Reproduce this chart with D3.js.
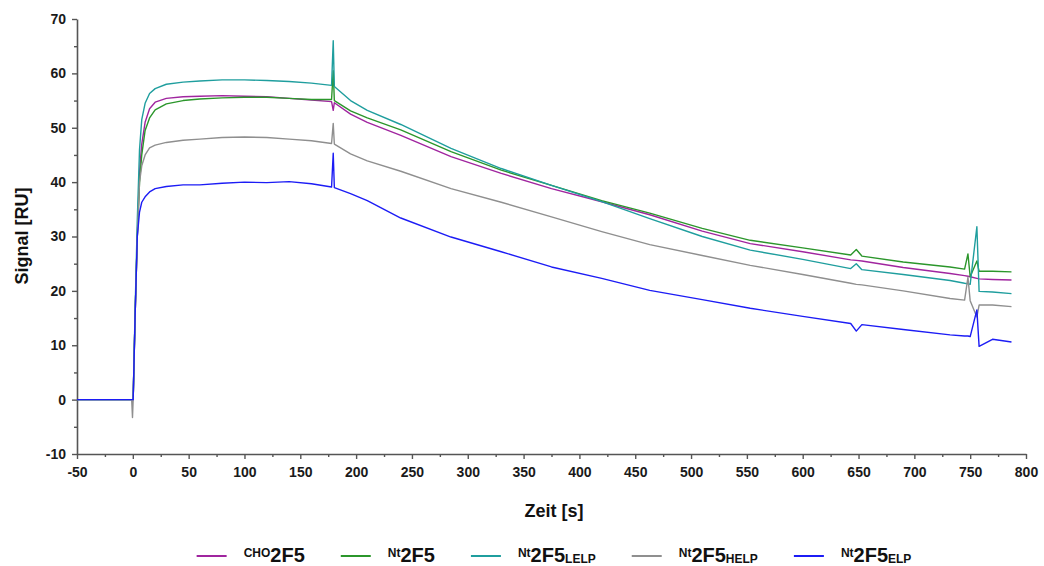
<!DOCTYPE html>
<html>
<head>
<meta charset="utf-8">
<script src="https://cdn.jsdelivr.net/npm/d3@7"></script>
<style>
  html, body { margin: 0; padding: 0; background: #fff; }
  svg { display: block; font-family: "Liberation Sans", Arial, sans-serif; }
</style>
</head>
<body>
<svg id="chart" width="1044" height="566"></svg>
<script>
// ---- data ----
const times = [-50, -1, -0.3, 0.3, 2, 4, 6, 8, 11, 15, 20, 30, 45, 60, 80, 100, 120, 140, 160, 178, 179.5, 180.5, 195, 210, 240, 285, 330, 375, 420, 463, 510, 553, 600, 643, 648, 653, 690, 732, 745, 748, 750, 756, 758, 770, 787];

const cho2F5 = [0, 0, 0, 0, 15, 30, 42, 47, 51, 53.5, 54.7, 55.4, 55.7, 55.8, 55.9, 55.8, 55.7, 55.4, 55.1, 54.8, 53.2, 54.6, 52.5, 51.0, 48.6, 44.7, 41.6, 38.8, 36.4, 34.0, 31.0, 28.7, 27.2, 25.7, 25.6, 25.5, 24.3, 23.2, 22.8, 22.7, 22.6, 22.3, 22.2, 22.1, 22.0];
const nt2F5 = [0, 0, 0, 0, 15, 30, 40, 45, 49.5, 51.8, 53.3, 54.4, 55.0, 55.3, 55.5, 55.6, 55.6, 55.4, 55.2, 55.2, 60.5, 55.0, 53.1, 51.8, 49.6, 45.6, 42.2, 39.4, 36.6, 34.3, 31.5, 29.3, 27.9, 26.6, 27.6, 26.4, 25.3, 24.4, 24.0, 26.8, 22.6, 25.5, 23.6, 23.6, 23.5];
const nt2F5LELP = [0, 0, 0, 0, 16, 33, 46, 51.5, 54.5, 56.3, 57.2, 58.0, 58.4, 58.6, 58.8, 58.8, 58.7, 58.5, 58.2, 57.8, 66.0, 57.6, 55.0, 53.2, 50.6, 46.2, 42.5, 39.4, 36.4, 33.3, 30.0, 27.5, 25.8, 24.1, 25.0, 23.9, 23.0, 21.9, 21.4, 21.3, 21.2, 31.8, 19.9, 19.8, 19.5];
const nt2F5HELP = [0, 0, -3.3, 0, 15, 30, 40, 43, 45.0, 46.3, 46.8, 47.3, 47.7, 47.9, 48.2, 48.3, 48.2, 47.9, 47.6, 47.1, 50.8, 47.0, 45.2, 43.9, 42.0, 38.8, 36.3, 33.6, 30.9, 28.5, 26.5, 24.7, 23.0, 21.4, 21.2, 21.1, 20.0, 18.6, 18.3, 22.5, 18.2, 15.2, 17.4, 17.4, 17.1];
const nt2F5ELP = [0, 0, 0, 0, 15, 30, 34.5, 36.3, 37.3, 38.2, 38.8, 39.2, 39.5, 39.5, 39.8, 40.0, 39.9, 40.1, 39.7, 39.1, 45.3, 39.0, 37.9, 36.6, 33.4, 29.9, 27.2, 24.4, 22.3, 20.1, 18.4, 16.8, 15.3, 14.0, 12.6, 13.8, 12.9, 11.9, 11.7, 11.7, 11.6, 16.5, 9.8, 11.1, 10.6];

const seriesNames = [
  { sup: "CHO", main: "2F5", sub: "" },
  { sup: "Nt", main: "2F5", sub: "" },
  { sup: "Nt", main: "2F5", sub: "LELP" },
  { sup: "Nt", main: "2F5", sub: "HELP" },
  { sup: "Nt", main: "2F5", sub: "ELP" }
];
const seriesValues = [cho2F5, nt2F5, nt2F5LELP, nt2F5HELP, nt2F5ELP];
const seriesColors = ["#a0259f", "#2b962b", "#1f9e9e", "#8f8f8f", "#1c1cf5"];

const xTicks = [-50, 0, 50, 100, 150, 200, 250, 300, 350, 400, 450, 500, 550, 600, 650, 700, 750, 800];
const yTicks = [-10, 0, 10, 20, 30, 40, 50, 60, 70];
const xTitle = "Zeit [s]";
const yTitle = "Signal [RU]";

// ---- drawing ----
const svg = d3.select("#chart");
const x = d3.scaleLinear().domain([-50, 800]).range([77, 1026]);
const y = d3.scaleLinear().domain([-10, 70]).range([454, 19]);
const axisColor = "#555";
const fmt = d => String(d); // plain hyphen for negatives, as in the reference

// minor ticks
const xMinor = d3.range(-50, 801, 25).filter(v => !xTicks.includes(v));
const yMinor = d3.range(-10, 71, 5).filter(v => !yTicks.includes(v));

const gxMinor = svg.append("g").attr("transform", `translate(0,${y(-10)})`)
  .call(d3.axisBottom(x).tickValues(xMinor).tickSize(3).tickFormat(""));
const gyMinor = svg.append("g").attr("transform", `translate(${x(-50)},0)`)
  .call(d3.axisLeft(y).tickValues(yMinor).tickSize(3).tickFormat(""));

const gx = svg.append("g").attr("transform", `translate(0,${y(-10)})`)
  .call(d3.axisBottom(x).tickValues(xTicks).tickSize(5).tickPadding(8).tickSizeOuter(0).tickFormat(fmt));
const gy = svg.append("g").attr("transform", `translate(${x(-50)},0)`)
  .call(d3.axisLeft(y).tickValues(yTicks).tickSize(5).tickPadding(6).tickSizeOuter(0).tickFormat(fmt));

[gxMinor, gyMinor, gx, gy].forEach(g => {
  g.select(".domain").attr("stroke", axisColor).attr("stroke-width", 1.6);
  g.selectAll(".tick line").attr("stroke", axisColor).attr("stroke-width", 1.4);
  g.selectAll(".tick text").attr("fill", "#1a1a1a").attr("font-size", 14).attr("font-weight", "bold")
    .attr("font-family", "'Liberation Sans', Arial, sans-serif");
});
gxMinor.select(".domain").remove();
gyMinor.select(".domain").remove();

// lines
const line = d3.line().x((d, i) => x(times[i])).y(d => y(d));
seriesValues.forEach((vals, k) => {
  svg.append("path")
    .datum(vals)
    .attr("fill", "none")
    .attr("stroke", seriesColors[k])
    .attr("stroke-width", 1.4)
    .attr("stroke-linejoin", "round")
    .attr("d", line);
});

// axis titles
svg.append("text").attr("x", 554).attr("y", 517).attr("text-anchor", "middle")
  .attr("font-size", 18).attr("font-weight", "bold").attr("fill", "#111").text(xTitle);
svg.append("text").attr("transform", "translate(28,236) rotate(-90)").attr("text-anchor", "middle")
  .attr("font-size", 18).attr("font-weight", "bold").attr("fill", "#111").text(yTitle);

// legend
const legend = svg.append("g");
const lineLen = 30, gapText = 17, gapItem = 36;
const legY = 556, legBase = 562;
let cursor = 0;
const items = [];
seriesNames.forEach((s, k) => {
  const g = legend.append("g");
  g.append("line").attr("x1", 0).attr("x2", lineLen).attr("y1", legY).attr("y2", legY)
    .attr("stroke", seriesColors[k]).attr("stroke-width", 2);
  const t = g.append("text").attr("x", lineLen + gapText).attr("y", legBase)
    .attr("font-weight", "bold").attr("fill", "#111");
  t.append("tspan").attr("font-size", 12).attr("dy", -5).text(s.sup);
  t.append("tspan").attr("font-size", 20).attr("dy", 5).text(s.main);
  if (s.sub) t.append("tspan").attr("font-size", 12).attr("dy", 1).text(s.sub);
  const w = lineLen + gapText + t.node().getComputedTextLength();
  items.push({ g, w });
});
const total = d3.sum(items, d => d.w) + gapItem * (items.length - 1);
cursor = 554 - total / 2;
items.forEach(it => {
  it.g.attr("transform", `translate(${cursor},0)`);
  cursor += it.w + gapItem;
});
</script>
</body>
</html>
